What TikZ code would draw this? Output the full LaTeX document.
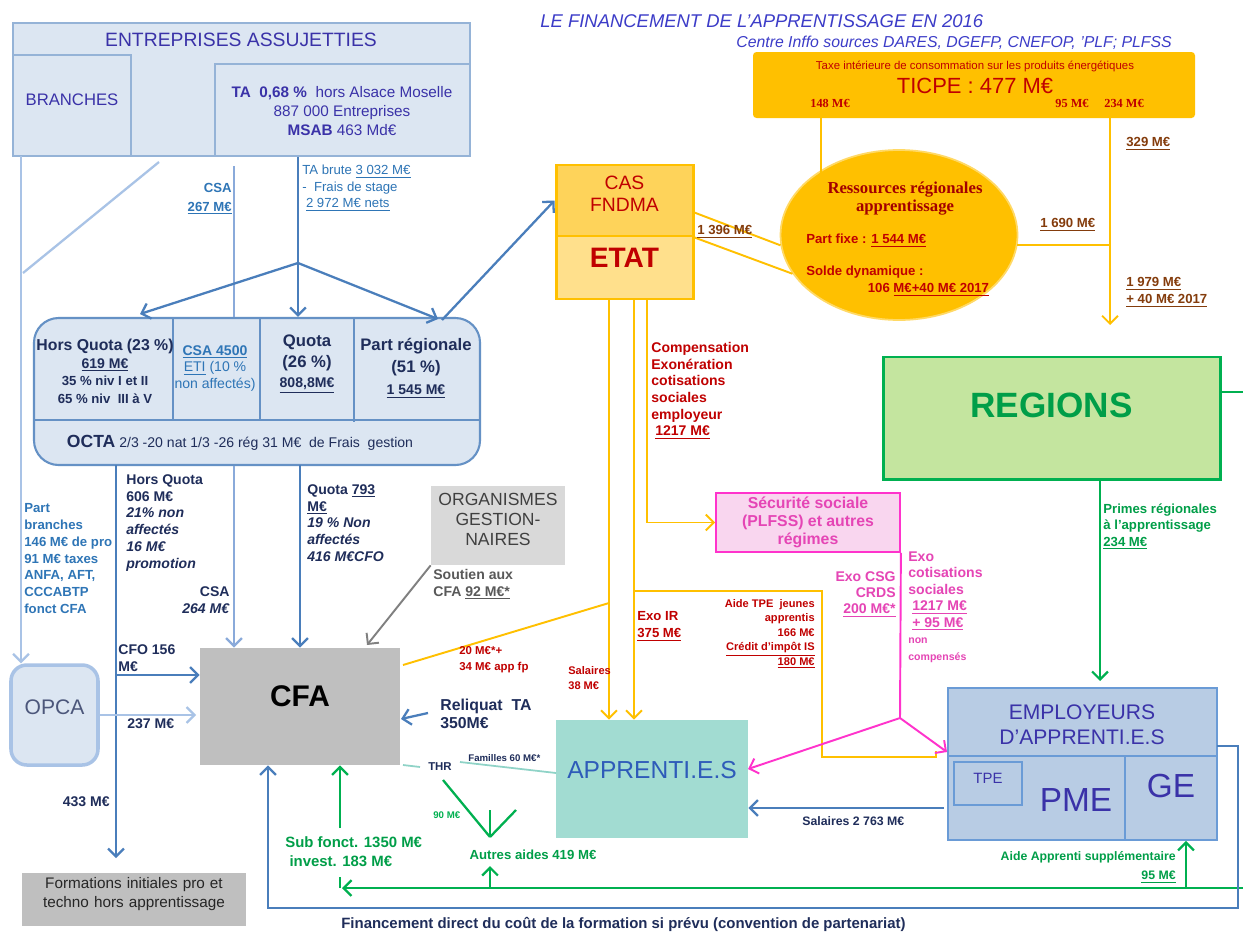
\documentclass[tikz,border=0pt]{standalone}
\usepackage{fontspec}
\setmainfont{Liberation Sans}
\newfontfamily\timesf{Liberation Serif}
\usetikzlibrary{arrows.meta, fit, shapes.geometric, positioning}
\newcommand{\fsz}[2]{\fontsize{#1}{#2}\selectfont}
\definecolor{steel}{HTML}{4A7EBB}
\definecolor{pale}{HTML}{A9C3E6}
\definecolor{midbl}{HTML}{8AAADA}
\definecolor{boxbl}{HTML}{DCE6F2}
\definecolor{edgebl}{HTML}{95B3D7}
\definecolor{navy}{HTML}{1F2D5A}
\definecolor{indig}{HTML}{3A32A8}
\definecolor{labbl}{HTML}{2E75B6}
\definecolor{dred}{HTML}{C00000}
\definecolor{brn}{HTML}{843C0C}
\definecolor{amber}{HTML}{FFC000}
\definecolor{casfill}{HTML}{FED35A}
\definecolor{etatfill}{HTML}{FFE08C}
\definecolor{grn}{HTML}{00B050}
\definecolor{regfill}{HTML}{C4E59F}
\definecolor{pnk}{HTML}{FF33CC}
\definecolor{pnktxt}{HTML}{E545B5}
\definecolor{secfill}{HTML}{F9D6EF}
\definecolor{tealbx}{HTML}{A2DCD2}
\definecolor{tealln}{HTML}{8FD3C7}
\definecolor{empfill}{HTML}{B8CCE4}
\definecolor{empedge}{HTML}{6A9BD6}
\definecolor{titleblue}{HTML}{3C3CC8}
\tikzset{
  frame/.style={inner sep=0pt},
  bline/.style={steel, line width=1.3pt},
  pline/.style={pale, line width=1.3pt},
  mline/.style={midbl, line width=1.3pt},
  oline/.style={amber, line width=1.1pt},
  gline/.style={grn, line width=1.3pt},
  kline/.style={pnk, line width=1.1pt},
  lbl/.style={inner sep=0pt, align=left, anchor=north west},
  lblr/.style={inner sep=0pt, align=right, anchor=north east},
}

\begin{document}
\begin{tikzpicture}[x=0.02cm, y=-0.02cm, >={Straight Barb[length=4.5pt,width=9pt]}, font=\fsz{8}{9.6}]
\useasboundingbox[fill=white] (0,0) rectangle (1243,933);
% titre
\node[lbl, font=\fsz{10.5}{12}\itshape, text=titleblue] (title) at (540,14) {LE FINANCEMENT DE L’APPRENTISSAGE EN 2016};
\node[lblr, font=\fsz{9}{10}\itshape, text=titleblue] (source) at (1172,36) {Centre Inffo sources DARES, DGEFP, CNEFOP, ’PLF; PLFSS};
%
% entreprises
\node[frame, draw=edgebl, fill=boxbl, line width=1pt, fit={(13,23) (470,156)}] (ent) {};
\node[text=indig, font=\fsz{11}{13}] (enttxt) at (241,40) {ENTREPRISES ASSUJETTIES};
\node[frame, draw=edgebl, fill=boxbl, line width=1pt, fit={(13,55) (131,156)}, text=indig, font=\fsz{9.5}{11}] (branches) {BRANCHES};
\node[frame, draw=edgebl, fill=boxbl, line width=1pt, fit={(215,64) (470,156)}] (ta) {};
\node[align=center, text=indig, font=\fsz{8.7}{10.8}] (tatxt) at (342,111) {\textbf{TA~ 0,68 \%}~ hors Alsace Moselle\\887 000 Entreprises\\\textbf{MSAB} 463 Md€};
%
% repartition
\node[frame, draw=steel!85, fill=boxbl, line width=1.2pt, rounded corners=14pt, fit={(34,318) (480,465)}] (quota) {};
\draw[steel!85, line width=1pt] (34,420) -- (480,420) (173,318) -- (173,420) (260,318) -- (260,420) (354,318) -- (354,422);
\node[align=center, text=navy, font=\fsz{7.5}{10}\bfseries, anchor=north] (hq) at (105,333) {{\fsz{9}{10}Hors Quota (23 \%)}\\{\fsz{8}{10}\underline{619 M€}}\\35 \% niv I et II\\65 \% niv~ III à V};
\node[align=center, text=labbl, font=\fsz{8}{9.6}, anchor=north] (csa) at (215,339) {\textbf{\underline{CSA 4500}}\\\underline{ETI} (10 \%\\non affectés)};
\node[align=center, text=navy, font=\fsz{9.5}{11.5}\bfseries, anchor=north] (qt) at (307,329) {Quota\\(26 \%)\\{\fsz{8}{10}\underline{808,8M€}}};
\node[align=center, text=navy, font=\fsz{9.5}{12.5}\bfseries, anchor=north] (pr) at (416,332) {Part régionale\\(51 \%)\\{\fsz{8}{10}\underline{1 545 M€}}};
\node[text=navy, font=\fsz{8}{10}] (octa) at (240,443) {{\fsz{10}{12}\bfseries OCTA} 2/3 -20 nat 1/3 -26 rég 31 M€~ de Frais~ gestion};
%
% boites du bas a gauche
\node[frame, draw=pale, fill=boxbl, line width=2pt, rounded corners=9pt, fit={(11,665) (98,765)}, text=navy!80, font=\fsz{12}{14}] (opca) {OPCA};
\node[frame, fill=black!25, fit={(200,648) (400,765)}, font=\fsz{17}{20}\bfseries] (cfa) {CFA};
\node[frame, fill=black!15, fit={(431,486) (565,565)}, align=center, text=black!75, font=\fsz{10}{11.2}] (orga) {ORGANISMES\\GESTION-\\NAIRES};
\node[frame, fill=black!25, fit={(22,873) (246,926)}, align=center, text=black!85, font=\fsz{8.7}{10.8}] (form) {Formations initiales pro et\\techno hors apprentissage};
%
% etat, ticpe, regions
\node[frame, draw=amber, fill=casfill, line width=1.7pt, fit={(556,165) (693,236)}, align=center, text=dred, font=\fsz{11}{12.5}] (cas) {CAS\\FNDMA};
\node[frame, draw=amber, fill=etatfill, line width=1.7pt, fit={(556,236) (693,299)}, text=dred, font=\fsz{16}{18}\bfseries] (etat) {ETAT};
\node[frame, fill=amber, rounded corners=2pt, fit={(753,52) (1195,118)}] (ticpe) {};
\node[text=dred, font=\fsz{6.5}{7}] (taxe) at (975,66) {Taxe intérieure de consommation sur les produits énergétiques};
\node[text=dred, font=\fsz{12.5}{15}] (ticpetxt) at (975,86) {TICPE : 477 M€};
\node[text=dred, font=\timesf\fsz{7}{8}\bfseries] (t148) at (830,103) {148 M€};
\node[text=dred, font=\timesf\fsz{7}{8}\bfseries] (t95) at (1072,103) {95 M€};
\node[text=dred, font=\timesf\fsz{7}{8}\bfseries] (t234) at (1124,103) {234 M€};
\node[ellipse, fill=amber, draw=amber!60!white, line width=1pt, minimum width=4.74cm, minimum height=3.4cm, inner sep=0pt] (res) at (899,235) {};
\node[align=center, text=dred!85!black, font=\timesf\fsz{9.5}{10.2}\bfseries] (restxt) at (905,199) {Ressources régionales\\apprentissage};
\node[lbl, text=dred, font=\fsz{7.5}{9}\bfseries] (fixe) at (806,234) {Part fixe : \underline{1 544 M€}};
\node[lbl, text=dred, font=\fsz{7.5}{9.6}\bfseries] (solde) at (806,266) {Solde dynamique :\\\hspace*{35pt}106 \underline{M€+40 M€ 2017}};
\node[frame, draw=grn, fill=regfill, line width=1.7pt, fit={(883,357) (1220,479)}, text=grn!90!black, font=\fsz{20}{22}\bfseries] (regions) {REGIONS};
\node[frame, draw=pnk, fill=secfill, line width=1pt, fit={(716,493) (900,552)}] (secu) {};
\node[align=center, text=pnktxt, font=\fsz{9}{10.2}\bfseries] (secutxt) at (secu.center) {Sécurité sociale\\(PLFSS) et autres\\régimes};
\node[frame, fill=tealbx, fit={(556,720) (748,838)}, text=indig!80!cyan, font=\fsz{14}{16}] (appr) {APPRENTI.E.S};
%
% employeurs
\node[frame, draw=empedge, fill=empfill, line width=1pt, fit={(948,688) (1217,756)}] (empl) {};
\node[align=center, text=indig, font=\fsz{12}{14}] (empltxt) at (1082,725) {EMPLOYEURS\\D’APPRENTI.E.S};
\node[frame, draw=empedge, fill=empfill, line width=1pt, fit={(948,756) (1125,840)}] (pme) {};
\node[frame, draw=empedge, fill=empfill, line width=1pt, fit={(1125,756) (1217,840)}, text=indig, font=\fsz{19}{21}] (ge) {GE};
\node[frame, draw=empedge, line width=1pt, fit={(954,762) (1022,805)}, text=indig, font=\fsz{8.5}{10}] (tpe) {TPE};
\node[text=indig, font=\fsz{19}{21}] (pmetxt) at (1076,800) {PME};
%
% flux entreprises
\coordinate (b1) at (21,156);
\coordinate (d1) at (159,162);
\coordinate (d2) at (23,273);
\coordinate (csa1) at (234,166);
\coordinate (split) at (298,263);
\coordinate (hqin) at (140,314);
\coordinate (prin) at (438,319);
\coordinate (prout) at (442,320);
\draw[pline, ->] (b1) -- (b1 |- opca.north);
\draw[pline] (d1) -- (d2);
\draw[mline] (csa1) -- (csa1 |- quota.north);
\draw[bline, ->] (split |- ta.south) -- (split |- quota.north);
\draw[bline, ->] (split) -- (hqin);
\draw[bline, ->] (split) -- (prin);
\draw[bline, ->] (prout) -- (cas.west);
%
% flux vers le CFA
\coordinate (hq1) at (116,465);
\coordinate (hq2) at (116,675);
\coordinate (formin) at (116,858);
\coordinate (qt1) at (300,465);
\coordinate (cfagr) at (367,645);
\coordinate (rl1) at (428,713);
\coordinate (rl2) at (401,719);
\draw[bline, ->] (hq1) -- (formin);
\draw[bline, ->] (hq2) -- (hq2 -| cfa.west);
\draw[mline, ->] (csa1 |- quota.south) -- (csa1 |- cfa.north);
\draw[bline, ->] (qt1) -- (qt1 |- cfa.north);
\draw[pline, ->] (opca.east) -- ([xshift=-2pt]opca.east -| cfa.west);
\draw[black!50, line width=1.1pt, ->] (orga.south west) -- (cfagr);
\draw[bline, ->] (rl1) -- (rl2);
%
% flux etat
\coordinate (c1) at (693,212);
\coordinate (e1) at (609,299);
\coordinate (e2) at (634,299);
\coordinate (e3) at (647,299);
\coordinate (o1) at (403,665);
\coordinate (o2) at (609,603);
\coordinate (o3) at (634,591);
\coordinate (o4) at (822,591);
\coordinate (o5) at (822,757);
\coordinate (o6) at (936,757);
\draw[oline] (c1) -- (res.185);
\draw[oline] (cas.south east) -- (res.200);
\draw[oline, ->] (e1) -- (e1 |- appr.north);
\draw[oline, ->] (e2) -- (e2 |- appr.north);
\draw[oline, ->] (e3) |- (secu.west);
\draw[oline] (o1) -- (o2);
\draw[oline] (o3) -- (o4) -- (o5) -- (o6) -- ++(0,-6);
%
% ticpe et regions
\coordinate (t1) at (821,118);
\coordinate (t1in) at (821,232);
\coordinate (t2) at (1110,118);
\coordinate (t2in) at (1110,325);
\draw[oline, ->] (t1) -- (t1in);
\draw[oline, ->] (t2) -- (t2in);
\draw[oline] (res.355) -- (res.355 -| t2);
\coordinate (rg) at (1100,479);
\coordinate (rgin) at (1100,681);
\coordinate (rgr) at (1220,392);
\coordinate (rgout) at (1243,392);
\draw[gline, ->] (rg) -- (rgin);
\draw[gline] (rgr) -- (rgout);
%
% securite sociale
\coordinate (pk) at (900,718);
\coordinate (apin) at (748,769);
\coordinate (emin) at (947,752);
\draw[kline] (secu.south east) -- (pk);
\draw[kline, ->] (pk) -- (apin);
\draw[kline, ->] (pk) -- (emin);
%
% salaires, aides
\coordinate (sal) at (944,808);
\draw[bline, ->] (sal) -- (sal -| appr.east);
\node[text=navy, font=\fsz{6.5}{8}\bfseries] (thr) at (440,767) {THR};
\coordinate (tl1) at (403,765);
\coordinate (tl2) at (420,767);
\coordinate (tl3) at (556,773);
\coordinate (tl4) at (460,762);
\draw[tealln, line width=1pt] (tl1) -- (tl2);
\draw[tealln, line width=1pt] (tl4) -- (tl3);
\coordinate (tv) at (490,837);
\coordinate (tv1) at (443,780);
\coordinate (tv2) at (516,810);
\coordinate (tv3) at (490,810);
\draw[gline] (tv1) -- (tv);
\draw[gline] (tv2) -- (tv);
\draw[gline] (tv3) -- (tv);
\coordinate (g0) at (1243,888);
\coordinate (g1) at (342,888);
\coordinate (g2) at (340,888);
\coordinate (g3) at (340,877);
\coordinate (sf) at (340,828);
\coordinate (aa) at (490,888);
\coordinate (aa1) at (490,866);
\coordinate (ga) at (1186,887);
\draw[gline, ->] (g0) -- (g1);
\draw[gline] (g2) -- (g3);
\draw[gline, ->] (sf) -- (sf |- cfa.south);
\draw[gline, ->] (aa) -- (aa1);
\draw[gline, ->] (ga) -- (ga |- pme.south);
\coordinate (fb) at (1217,746);
\coordinate (fb1) at (1238,746);
\coordinate (fb2) at (1238,908);
\coordinate (fb3) at (268,908);
\draw[bline, ->] (fb) -- (fb1) -- (fb2) -- (fb3) -- (fb3 |- cfa.south);
%
% etiquettes
\node[lbl, text=labbl, font=\fsz{7.5}{9.6}\bfseries] (partbr) at (24,503) {Part\\branches\\146 M€ de pro\\91 M€ taxes\\ANFA, AFT,\\CCCABTP\\fonct CFA};
\node[lbl, text=navy, font=\fsz{8}{9.6}\bfseries] (hqlab) at (126,474) {Hors Quota\\606 M€\\\textit{21\% non}\\\textit{affectés}\\\textit{16 M€}\\\textit{promotion}};
\node[lblr, text=navy, font=\fsz{8}{9.6}\bfseries] (csa264) at (230,586) {CSA\\\textit{264 M€}};
\node[lbl, text=navy, font=\fsz{8}{9.6}\bfseries] (qlab) at (307,484) {Quota \underline{793}\\\underline{M€}\\\textit{19 \% Non}\\\textit{affectés}\\\textit{416 M€CFO}};
\node[lbl, text=navy, font=\fsz{8}{9.6}\bfseries] (cfo) at (118,644) {CFO 156\\M€};
\node[lbl, text=navy, font=\fsz{8}{9.6}\bfseries] (l237) at (127,718) {237 M€};
\node[lblr, text=navy, font=\fsz{8}{9.6}\bfseries] (l433) at (110,796) {433 M€};
\node[lblr, text=labbl, font=\fsz{7.5}{10.5}\bfseries] (csa267) at (232,183) {CSA\\\underline{267 M€}};
\node[lbl, text=labbl, font=\fsz{7.5}{9.4}] (tabrute) at (302,165) {TA brute \underline{3 032 M€}\\-~ Frais de stage\\~\underline{2 972 M€ nets}};
\node[lbl, text=black!65, font=\fsz{8}{9.4}\bfseries] (soutien) at (433,569) {Soutien aux\\CFA \underline{92 M€*}};
\node[lbl, text=navy, font=\fsz{9}{9.8}\bfseries] (reliquat) at (440,699) {Reliquat~ TA\\350M€};
\node[lbl, text=dred, font=\fsz{6.5}{9}\bfseries] (l20) at (459,646) {20 M€*+\\34 M€ app fp};
\node[lbl, text=dred, font=\fsz{6.3}{8.5}\bfseries] (sal38) at (568,666) {Salaires\\38 M€};
\node[lbl, text=dred, font=\fsz{7.5}{9.6}\bfseries] (exoir) at (637,611) {Exo IR\\\underline{375 M€}};
\node[lblr, text=dred, font=\fsz{6.3}{8.2}\bfseries] (aidetpe) at (815,599) {Aide TPE~ jeunes\\apprentis\\166 M€\\\underline{Crédit d’impôt IS}\\\underline{180 M€}};
\node[lbl, text=dred, font=\fsz{8}{9.5}\bfseries] (compens) at (651,342) {Compensation\\Exonération\\cotisations\\sociales\\employeur\\~\underline{1217 M€}};
\node[lbl, text=brn, font=\fsz{7.5}{9}\bfseries] (l1396) at (697,225) {\underline{1 396 M€}};
\node[lbl, text=brn, font=\fsz{7.5}{9}\bfseries] (l329) at (1126,137) {\underline{329 M€}};
\node[lbl, text=brn, font=\fsz{7.5}{9}\bfseries] (l1690) at (1040,218) {\underline{1 690 M€}};
\node[lbl, text=brn, font=\fsz{7.5}{9.6}\bfseries] (l1979) at (1126,277) {\underline{1 979 M€}\\\underline{+ 40 M€ 2017}};
\node[lbl, text=grn!90!black, font=\fsz{7.5}{9.4}\bfseries] (primes) at (1103,503) {Primes régionales\\à l’apprentissage\\\underline{234 M€}};
\node[lblr, text=pnktxt, font=\fsz{8}{9.2}\bfseries] (exocsg) at (896,571) {Exo CSG\\CRDS\\\underline{200 M€*}};
\node[lbl, text=pnktxt, font=\fsz{8}{9.4}\bfseries] (exocot) at (908,551) {Exo\\cotisations\\sociales\\~\underline{1217 M€}\\~\underline{+ 95 M€}\\{\fsz{6}{9}non}\\{\fsz{6}{8}compensés}};
\node[lbl, text=navy, font=\fsz{5.5}{7}\bfseries] (familles) at (468,754) {Familles 60 M€*};
\node[lbl, text=grn, font=\fsz{5.5}{7}\bfseries] (l90) at (433,811) {90 M€};
\node[text=grn!90!black, font=\fsz{7.5}{9}\bfseries] (autres) at (533,855) {Autres aides 419 M€};
\node[lbl, text=grn!90!black, font=\fsz{8.5}{10.8}\bfseries] (subf) at (285,836) {Sub fonct. 1350 M€\\~invest. 183 M€};
\node[lblr, text=grn!90!black, font=\fsz{7}{10.8}\bfseries] (aideapp) at (1176,851) {Aide Apprenti supplémentaire\\\underline{95 M€}};
\node[lbl, text=navy, font=\fsz{7}{8}\bfseries] (sal2763) at (802,816) {Salaires 2 763 M€};
\node[lbl, text=navy, font=\fsz{8.5}{10}\bfseries] (financ) at (341,917) {Financement direct du coût de la formation si prévu (convention de partenariat)};
\end{tikzpicture}
\end{document}
